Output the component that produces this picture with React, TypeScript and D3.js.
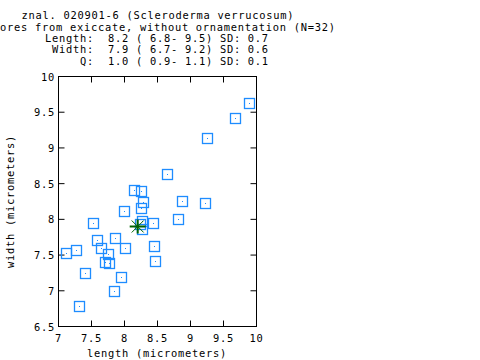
import React from "react";
import * as d3 from "d3";

const titleLines = [
  "znal. 020901-6 (Scleroderma verrucosum)",
  "spores from exiccate, without ornamentation (N=32)",
  "Length:  8.2 ( 6.8- 9.5) SD: 0.7",
  " Width:  7.9 ( 6.7- 9.2) SD: 0.6",
  "     Q:  1.0 ( 0.9- 1.1) SD: 0.1",
];

const lengths = [9.88, 9.67, 9.25, 8.64, 8.14, 8.25, 8.87, 9.22, 8.28, 7.99, 8.25, 7.52, 8.26, 8.43, 8.81, 8.26, 8.24, 7.86, 7.58, 7.64, 8.0, 8.44, 7.26, 7.11, 7.75, 7.7, 7.76, 8.46, 7.4, 7.94, 7.84, 7.31];
const widths = [9.63, 9.42, 9.14, 8.64, 8.41, 8.4, 8.26, 8.23, 8.25, 8.12, 8.16, 7.95, 7.98, 7.95, 8.01, 7.87, 7.93, 7.74, 7.71, 7.6, 7.6, 7.63, 7.57, 7.53, 7.51, 7.41, 7.39, 7.42, 7.25, 7.2, 7.0, 6.79];

const meanLength = 8.2;
const meanWidth = 7.9;

const xTicks = [7, 7.5, 8, 8.5, 9, 9.5, 10];
const yTicks = [6.5, 7, 7.5, 8, 8.5, 9, 9.5, 10];

const FONT = "'DejaVu Sans Mono', monospace";
const FS = 10.4;
const LS = 0.74;

export default function App() {
  const x = d3.scaleLinear().domain([7, 10]).range([58.5, 256.5]);
  const y = d3.scaleLinear().domain([6.5, 10]).range([326.5, 76.5]);
  const fmt = (v: number) => (Number.isInteger(v) ? String(v) : v.toFixed(1));
  const blue = "#1e8cff";
  const green = "#006400";
  const tl = 6;
  const titleX = [21.5, -14, 45, 45, 45];
  const titleY = [19, 30.5, 42, 53, 64.5];
  const mx = x(meanLength);
  const my = y(meanWidth);
  const txt = { fontFamily: FONT, fontSize: FS, letterSpacing: LS, fill: "#000" } as any;
  return (
    <svg width={480} height={360} style={{ position: "absolute", left: 0, top: 0, background: "#fff" }}>
      <rect x={0} y={0} width={480} height={360} fill="#fff" />
      {titleLines.map((t, i) => (
        <text key={i} x={titleX[i]} y={titleY[i]} {...txt} xmlSpace="preserve" style={{ whiteSpace: "pre" }}>
          {t}
        </text>
      ))}
      {xTicks.slice(1, -1).map((v) => (
        <g key={"xt" + v} stroke="#000" strokeWidth={1}>
          <line x1={x(v)} x2={x(v)} y1={y(6.5)} y2={y(6.5) - tl} />
          <line x1={x(v)} x2={x(v)} y1={y(10)} y2={y(10) + tl} />
        </g>
      ))}
      {yTicks.slice(1, -1).map((v) => (
        <g key={"yt" + v} stroke="#000" strokeWidth={1}>
          <line x1={x(7)} x2={x(7) + tl} y1={y(v)} y2={y(v)} />
          <line x1={x(10)} x2={x(10) - tl} y1={y(v)} y2={y(v)} />
        </g>
      ))}
      <rect x={x(7)} y={y(10)} width={x(10) - x(7)} height={y(6.5) - y(10)} fill="none" stroke="#000" strokeWidth={1} />
      {xTicks.map((v) => (
        <text key={"xl" + v} x={x(v)} y={342} textAnchor="middle" {...txt}>
          {fmt(v)}
        </text>
      ))}
      {yTicks.map((v) => (
        <text key={"yl" + v} x={55} y={y(v) + 4} textAnchor="end" {...txt}>
          {fmt(v)}
        </text>
      ))}
      <text x={157} y={357} textAnchor="middle" {...txt}>
        length (micrometers)
      </text>
      <text transform={`translate(14,${y(8.25)}) rotate(-90)`} textAnchor="middle" {...txt}>
        width (micrometers)
      </text>
      {lengths.map((l, i) => {
        const cx = Math.round(x(l)) + 0.5;
        const cy = Math.round(y(widths[i])) + 0.5;
        return (
          <g key={"p" + i}>
            <rect x={cx - 5} y={cy - 5} width={10} height={10} fill="none" stroke={blue} strokeWidth={1.3} />
            <rect x={cx - 0.5} y={cy - 0.5} width={1} height={1} fill={blue} />
          </g>
        );
      })}
      <g stroke={green}>
        <line x1={mx - 8} x2={mx + 8} y1={my} y2={my} strokeWidth={2} />
        <line x1={mx} x2={mx} y1={my - 7} y2={my + 7} strokeWidth={2} />
        <line x1={mx - 6} x2={mx + 6} y1={my - 6} y2={my + 6} strokeWidth={1} />
        <line x1={mx - 6} x2={mx + 6} y1={my + 6} y2={my - 6} strokeWidth={1} />
      </g>
    </svg>
  );
}
